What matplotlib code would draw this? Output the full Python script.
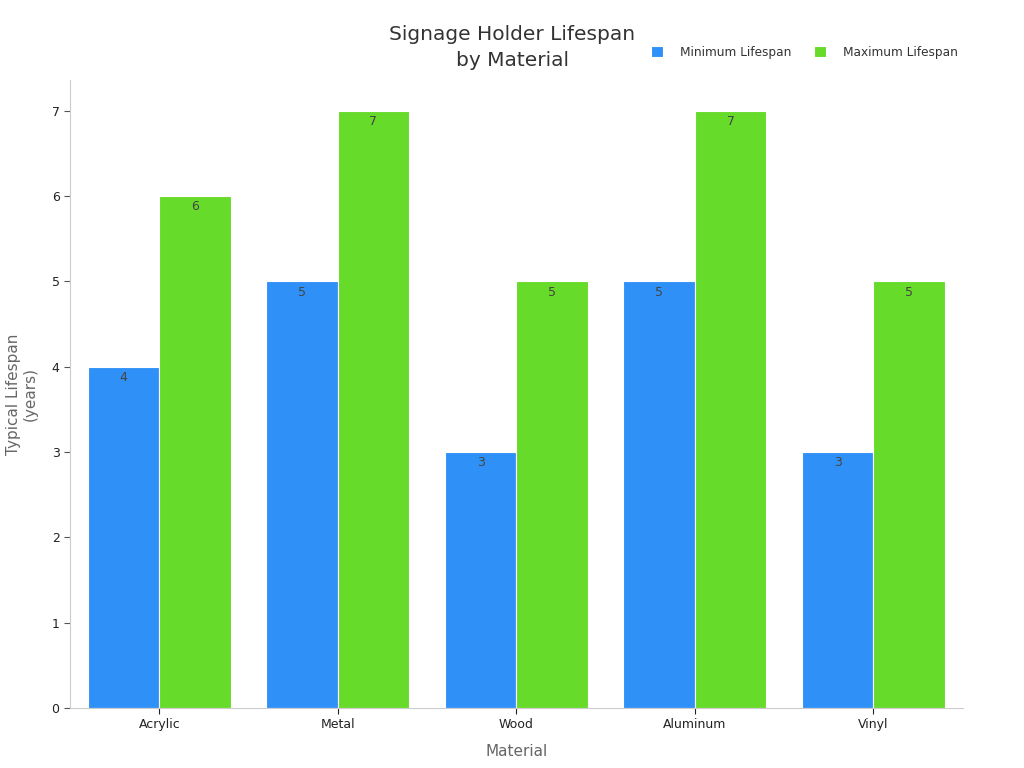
import numpy as np
import matplotlib.pyplot as plt

#--------------------- data ---------------------
materials = ["Acrylic", "Metal", "Wood", "Aluminum", "Vinyl"]
min_life = [4, 5, 3, 5, 3]
max_life = [6, 7, 5, 7, 5]
series_names = ["Minimum Lifespan", "Maximum Lifespan"]

#--------------------- plot ---------------------
fig = plt.figure(figsize=(10.24, 7.68), dpi=100)
ax = fig.add_axes([0.0684, 0.0781, 0.8716, 0.8177])

x = np.arange(len(materials))
w = 0.4
b1 = ax.bar(x - w/2, min_life, w, color="#2F91F7", edgecolor="white", linewidth=0.8, label=series_names[0])
b2 = ax.bar(x + w/2, max_life, w, color="#67DB2A", edgecolor="white", linewidth=0.8, label=series_names[1])

for bars in (b1, b2):
    for r in bars:
        ax.text(r.get_x() + r.get_width()/2, r.get_height() - 0.05, f"{r.get_height():g}",
                ha="center", va="top", fontsize=9, color="#444444")

ax.set_xlim(-0.5, 4.5)
ax.set_ylim(0, 7.36)
ax.set_xticks(x)
ax.set_xticklabels(materials)
ax.set_yticks(range(0, 8))
ax.tick_params(axis="both", labelsize=9, colors="#222222", length=4, width=0.8)
ax.tick_params(axis="y", colors="#555555", labelcolor="#222222")

for s in ["top", "right"]:
    ax.spines[s].set_visible(False)
for s in ["left", "bottom"]:
    ax.spines[s].set_color("#cccccc")
    ax.spines[s].set_linewidth(0.8)

ax.set_xlabel("Material", fontsize=11, color="#666666", labelpad=9)
fig.text(22/1024, 0.487, "Typical Lifespan\n(years)", rotation=90, ha="center", va="center",
         fontsize=11, color="#666666", linespacing=1.2)

fig.text(0.5, 0.938, "Signage Holder Lifespan\nby Material", ha="center", va="center",
         fontsize=14.5, color="#333333", linespacing=1.45)

leg = ax.legend(loc="upper right", bbox_to_anchor=(1.007, 1.072), ncol=2, frameon=False, fontsize=8.7,
                handlelength=1.0, handleheight=1.0, columnspacing=1.9, handletextpad=1.4)
for t in leg.get_texts():
    t.set_color("#333333")

fig.savefig("out.png", dpi=100)
